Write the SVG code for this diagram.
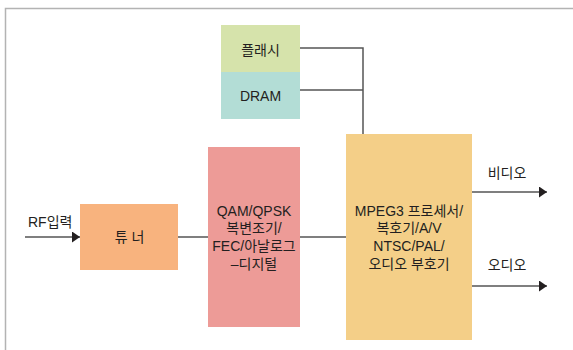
<svg xmlns="http://www.w3.org/2000/svg" width="573" height="350" viewBox="0 0 573 350">
<defs>
<style>
text{font-family:"Liberation Sans","Noto Sans CJK KR",sans-serif;font-size:14px;fill:#231f20;}
.c{text-anchor:middle;}
.ln{stroke:#555;stroke-width:1.5;fill:none;}
.frame{stroke:#b3b3b3;stroke-width:1.5;fill:none;}
</style>
<marker id="ah" markerWidth="8" markerHeight="11" refX="8" refY="5.5" orient="auto" markerUnits="userSpaceOnUse">
<path d="M0,0 L8,5.5 L0,11 Z" fill="#231f20"/>
</marker>
</defs>
<rect width="573" height="350" fill="#fff"/>
<path class="frame" d="M5.5,350 V8.5 H573"/>
<g id="connectors">
<path class="ln" d="M300,48 H363 V134"/>
<path class="ln" d="M300,90 H363"/>
<path class="ln" d="M25,237 H80" marker-end="url(#ah)"/>
<path class="ln" d="M178,237 H208"/>
<path class="ln" d="M300,237 H346"/>
<path class="ln" d="M472,192 H547" marker-end="url(#ah)"/>
<path class="ln" d="M472,286 H547" marker-end="url(#ah)"/>
<text x="28" y="227">RF입력</text>
<text class="c" x="507" y="178">비디오</text>
<text class="c" x="507" y="270">오디오</text>
</g>
<g id="flash">
<rect x="221" y="25" width="79" height="47" fill="#d6e3ab"/>
<text class="c" x="260.5" y="55">플래시</text>
</g>
<g id="dram">
<rect x="221" y="72" width="79" height="47" fill="#b3ddd6"/>
<text class="c" x="260.5" y="101">DRAM</text>
</g>
<g id="tuner">
<rect x="80" y="204" width="98" height="66" fill="#f8b37e"/>
<text class="c" x="129.5" y="242">튜 너</text>
</g>
<g id="demod">
<rect x="208" y="147" width="92" height="180" fill="#ed9b97"/>
<text class="c" x="254" y="215.5">QAM/QPSK</text>
<text class="c" x="254" y="233">복변조기/</text>
<text class="c" x="254" y="251">FEC/아날로그</text>
<text class="c" x="254" y="269">–디지털</text>
</g>
<g id="mpeg">
<rect x="346" y="134" width="126" height="206" fill="#f4cf88"/>
<text class="c" x="409" y="215.5">MPEG3 프로세서/</text>
<text class="c" x="409" y="233">복호기/A/V</text>
<text class="c" x="409" y="251">NTSC/PAL/</text>
<text class="c" x="409" y="269">오디오 부호기</text>
</g>
</svg>
